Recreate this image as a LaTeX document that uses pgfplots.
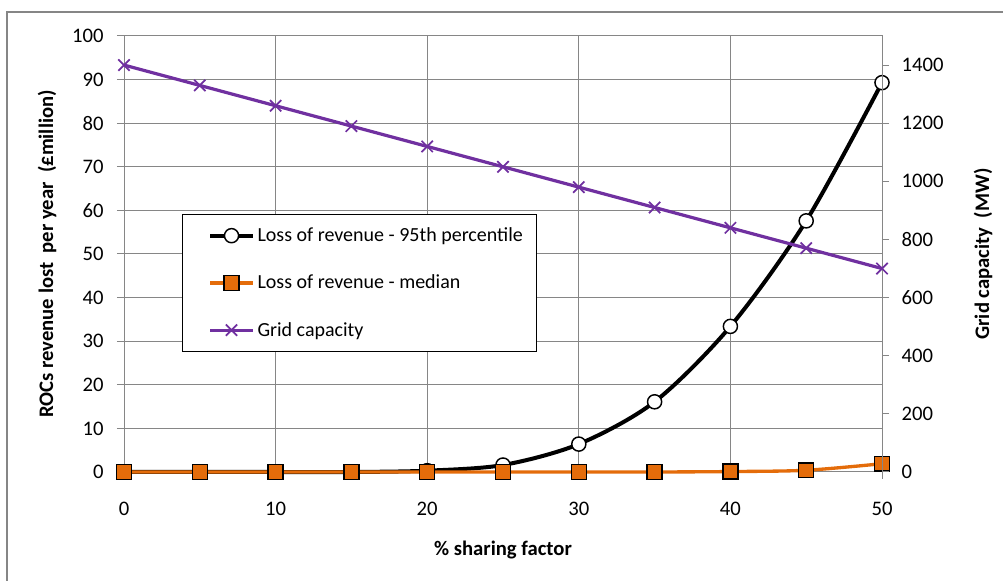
\documentclass[border=0pt]{standalone}
\usepackage{pgfplots}
\pgfplotsset{compat=1.18}
\usepackage{fontspec}
\setmainfont{Carlito}
\definecolor{chartgray}{RGB}{134,134,134}
\definecolor{lineorange}{RGB}{228,108,10}
\definecolor{linepurple}{RGB}{112,48,160}

\pgfplotstableread{
x   p95   med
0   0     0
5   0     0
10  0     0
15  0     0
20  0.3   0
25  1.6   0
30  6.4   0
35  16.1  0
40  33.4  0.1
45  57.6  0.4
50  89.3  1.9
}\revenue

\pgfplotstableread{
x   cap
0   1400
5   1330
10  1260
15  1190
20  1120
25  1050
30  980
35  910
40  840
45  770
50  700
}\capacity

\pgfplotsset{
  base/.style={
    at={(93pt,81.75pt)}, anchor=south west,
    scale only axis, width=568.5pt, height=327pt,
    xmin=0, xmax=50,
    font=\fontsize{15.5}{18}\selectfont,
    /pgf/number format/assume math mode=true,
    /pgf/number format/1000 sep={},
    tick align=outside, major tick length=5.25pt,
    tick style={chartgray, line width=0.75pt},
    axis line style={chartgray, line width=0.75pt},
    legend image code/.code={
      \path (0pt,0pt);
      \draw[mark repeat=2, mark phase=2] plot coordinates {(11pt,0pt) (27pt,0pt) (43pt,0pt)};
    },
  },
}

\begin{document}
\begin{tikzpicture}
\clip (0,0) rectangle (752.25pt,435.75pt);
\draw[chartgray, line width=1.1pt] (5.25pt,-20pt) rectangle (800pt,426.75pt);

\begin{axis}[base,
  clip=false,
  ymin=0, ymax=100,
  ytick={0,10,...,100},
  xtick={0,10,...,50},
  xtick pos=bottom, ytick pos=left,
  grid=major,
  major grid style={chartgray, line width=0.75pt},
  xticklabel style={yshift=-14pt},
  yticklabel style={xshift=-6.5pt},
  xlabel={\textbf{\% sharing factor}},
  xlabel style={at={(rel axis cs:0.5,0)}, anchor=center, yshift=-58.5pt},
  ylabel={\textbf{ROCs revenue lost\ \ per year\ \ (£million)}},
  ylabel style={at={(rel axis cs:0,0.5)}, anchor=center, yshift=57.75pt},
]
\addplot[black, line width=3pt, smooth, mark=*, mark size=5.3pt,
  mark options={fill=white, draw=black, line width=1.1pt}] table[x=x, y=p95] {\revenue};
\addplot[lineorange, line width=2.5pt, smooth, mark=square*, mark size=5.6pt,
  mark options={fill=lineorange, draw=black, line width=1.1pt}] table[x=x, y=med] {\revenue};
\end{axis}

\begin{axis}[base,
  clip=false,
  ymin=0, ymax=1500,
  ytick={0,200,...,1400},
  axis x line=none,
  axis y line*=right,
  yticklabel style={xshift=6pt},
  ylabel={\textbf{Grid capacity\ \ (MW)}},
  ylabel style={at={(rel axis cs:1,0.5)}, anchor=center, yshift=-75.75pt},
  legend style={at={(rel axis cs:0.077,0.592)}, anchor=north west,
    draw=black, line width=0.75pt, fill=white,
    inner xsep=8pt, inner ysep=8pt,
    row sep=19.5pt,
    font=\fontsize{15}{18}\selectfont},
  legend cell align=left,
]
\addlegendimage{black, line width=3pt, mark=*, mark size=5.3pt,
  mark options={fill=white, draw=black, line width=1.1pt}}
\addlegendentry{Loss of revenue - 95th percentile}
\addlegendimage{lineorange, line width=2.5pt, mark=square*, mark size=5.6pt,
  mark options={fill=lineorange, draw=black, line width=1.1pt}}
\addlegendentry{Loss of revenue - median}
\addplot[linepurple, line width=2.4pt, mark=x, mark size=6pt,
  mark options={line width=1.3pt}] table[x=x, y=cap] {\capacity};
\addlegendentry{Grid capacity}
\end{axis}
\end{tikzpicture}
\end{document}
